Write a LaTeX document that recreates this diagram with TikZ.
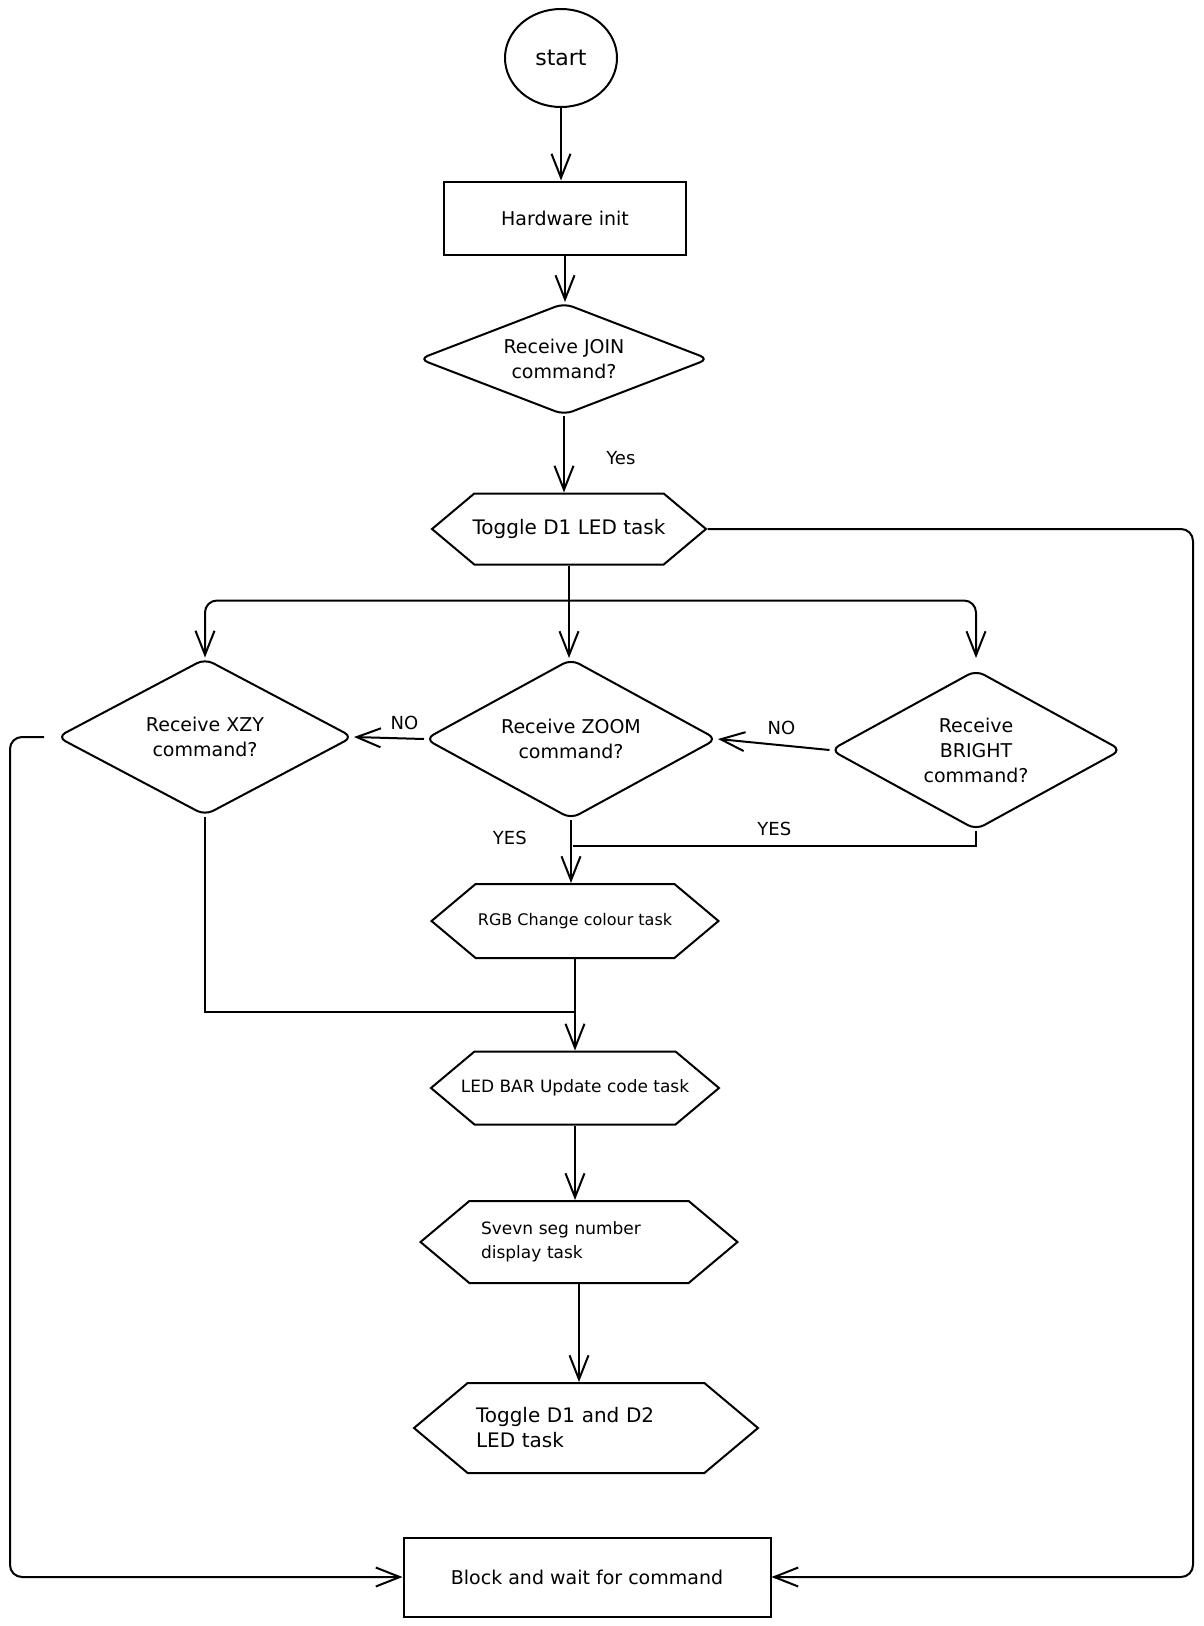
\documentclass[tikz,border=0pt]{standalone}
\usepackage{fontspec}
\setmainfont{DejaVu Sans}
\usepackage{tikz}
\usetikzlibrary{arrows.meta,calc,shapes.geometric,shapes.symbols}
\tikzset{>={Straight Barb[length=24pt,width=19pt]}}
\tikzset{
  decision/.style={draw, diamond, rounded corners=9pt, line width=2pt, inner sep=0pt, align=center},
  hexa/.style={draw, signal, signal to=east and west, signal pointer angle=80, line width=2pt, inner xsep=-40pt, inner ysep=0pt, align=center},
  procbox/.style={draw, rectangle, line width=2pt, align=center},
  lbl/.style={font=\fontsize{18}{20}\selectfont}
}

\begin{document}
\begin{tikzpicture}[x=1pt,y=-1pt,font=\fontsize{19}{25}\selectfont]
\useasboundingbox (0,0) rectangle (1203,1626);
\node[draw,ellipse,line width=2pt,minimum width=112pt,minimum height=98pt,font=\fontsize{22}{25}\selectfont] (start) at (561,58) {start};
\node[procbox,minimum width=242pt,minimum height=73pt] (hw) at (565,218) {Hardware init};
\node[decision,aspect=2.6,minimum width=290pt,minimum height=112pt] (join) at (564,359) {Receive JOIN\\command?};
\node[hexa,minimum width=274pt,minimum height=71pt,font=\fontsize{20}{25}\selectfont] (tog) at (569,529) {Toggle D1 LED task};
\node[decision,aspect=1.8,minimum width=296pt,minimum height=157pt] (xzy) at (205,737) {Receive XZY\\command?};
\node[decision,aspect=1.8,minimum width=292pt,minimum height=160pt] (zoom) at (571,739) {Receive ZOOM\\command?};
\node[decision,aspect=1.8,minimum width=291pt,minimum height=160pt] (bright) at (976,750) {Receive\\BRIGHT\\command?};
\node[hexa,minimum width=287pt,minimum height=74pt,font=\fontsize{16}{20}\selectfont] (rgb) at (575,921) {RGB Change colour task};
\node[hexa,minimum width=288pt,minimum height=73pt,font=\fontsize{17}{20}\selectfont] (bar) at (575,1088) {LED BAR Update code task};
\node[hexa,minimum width=317pt,minimum height=82pt,text width=196pt,align=left,font=\fontsize{17}{24}\selectfont] (seg) at (579,1242) {Svevn seg number\\display task};
\node[hexa,minimum width=344pt,minimum height=90pt,text width=220pt,align=left,font=\fontsize{20}{25}\selectfont] (tog2) at (586,1428) {Toggle D1 and D2\\LED task};
\node[procbox,minimum width=367pt,minimum height=79pt] (block) at (587,1577) {Block and wait for command};
\coordinate (br) at ($(tog.south)+(0,35)$);
\coordinate (yj) at ($(zoom.south)!0.42!(rgb.north)$);
\coordinate (mg) at ($(rgb.south)!0.58!(bar.north)$);
\coordinate (rr) at (1193,0);
\coordinate (ll) at (10,0);
\begin{scope}[line width=2pt]
\draw[->] (start.south) -- (start.south |- hw.north);
\draw[->] (hw.south) -- (hw.south |- join.north);
\draw[->] (join.south) -- (join.south |- tog.north) node[pos=0.55,right=38pt,lbl] {Yes};
\draw[->] (tog.south) -- (tog.south |- zoom.north);
\draw[->,rounded corners=12pt] (br) -| (xzy.north);
\draw[->,rounded corners=12pt,shorten >=11pt] (br) -| (bright.north);
\draw[->] (zoom.west) -- (xzy.east) node[pos=0.28,above=4pt,lbl] {NO};
\draw[->] (bright.west) -- (zoom.east) node[pos=0.43,above=6pt,lbl] {NO};
\draw[->] (zoom.south) -- (zoom.south |- rgb.north) node[pos=0.29,left=40pt,lbl] {YES};
\draw (bright.south) |- (yj) node[pos=0.75,above=6pt,lbl] {YES};
\draw (xzy.south) |- (mg);
\draw[->] (rgb.south) -- (rgb.south |- bar.north);
\draw[->] (bar.south) -- (bar.south |- seg.north);
\draw[->] (seg.south) -- (seg.south |- tog2.north);
\draw[->,rounded corners=12pt] (tog.east) -- (tog.east -| rr) |- (block.east);
\draw[->,rounded corners=12pt] ($(xzy.west)+(-12,0)$) -- (xzy.west -| ll) |- (block.west);
\end{scope}
\end{tikzpicture}
\end{document}
